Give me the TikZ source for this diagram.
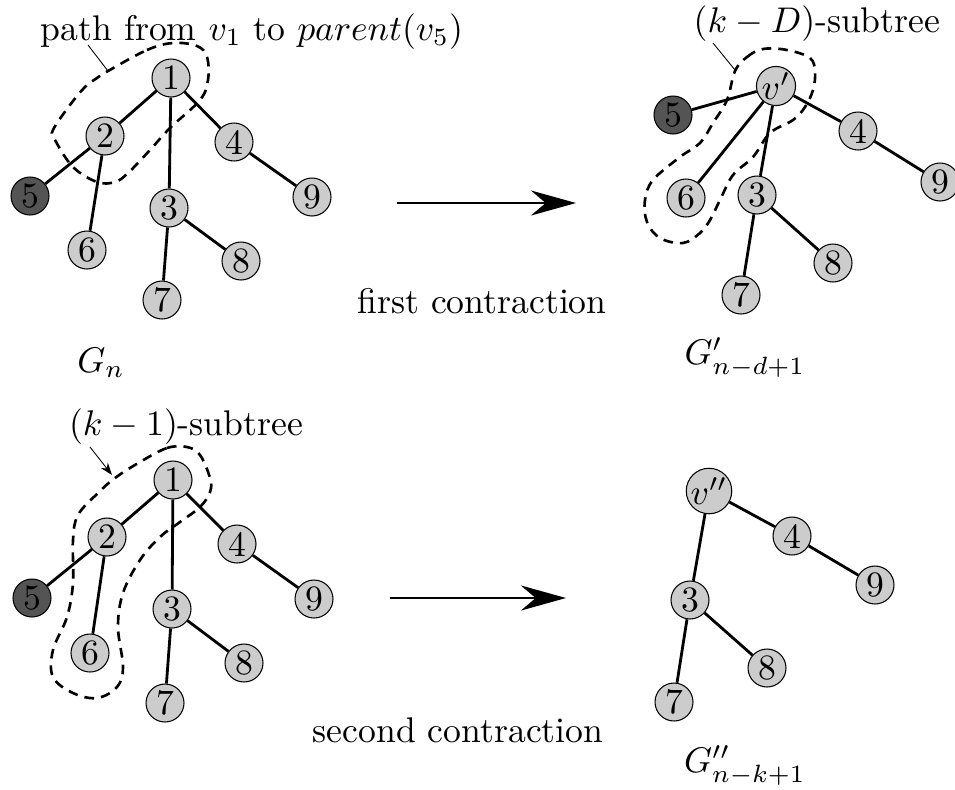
\documentclass[tikz,border=0pt]{standalone}
\usetikzlibrary{arrows.meta}
% every label is set at 10pt and enlarged as a whole
\newcommand{\bigtxt}[1]{\scalebox{2.03}{#1}}
\begin{document}
\begin{tikzpicture}[x=0.02cm,y=-0.02cm,
  vtx/.style={circle,draw=black,line width=0.6pt,fill=black!20,minimum size=0.76cm,inner sep=0pt},
  dark/.style={vtx,fill=black!67},
  edge/.style={line width=1.6pt},
  region/.style={line width=1.5pt,dash pattern=on 5.5pt off 4pt},
  pointer/.style={line width=0.5pt},
  lbl/.style={inner sep=0pt,anchor=base},
  bigarrow/.style={line width=1.6pt,-{Stealth[length=0.9cm,width=0.5cm]}}
]
\useasboundingbox (0,0) rectangle (955,789);

% ---------- original tree G_n ----------
\node[vtx]  (a1) at (171,78)  {\bigtxt{1}};
\node[vtx]  (a2) at (105,136) {\bigtxt{2}};
\node[vtx]  (a4) at (234,142) {\bigtxt{4}};
\node[dark] (a5) at (30,196)  {\bigtxt{5}};
\node[vtx]  (a9) at (312,197) {\bigtxt{9}};
\node[vtx]  (a3) at (169,208) {\bigtxt{3}};
\node[vtx]  (a6) at (87,250)  {\bigtxt{6}};
\node[vtx]  (a8) at (241,261) {\bigtxt{8}};
\node[vtx]  (a7) at (162,300) {\bigtxt{7}};
\foreach \u/\v in {a1/a2,a1/a3,a1/a4,a2/a5,a2/a6,a3/a7,a3/a8,a4/a9}
  \draw[edge] (\u) -- (\v);
\draw[region] plot[smooth cycle,tension=0.6] coordinates {
  (108,71) (147,50) (173,43) (197,46) (207,57) (208,80) (200,100)
  (170,128) (150,150) (128,173) (115,182) (97,182) (73,167) (55,140)
  (53,130) (70,105) (85,87) (97,78)};
\node[lbl] (pathlbl) at (252,40) {\bigtxt{path from $v_1$ to $parent(v_5)$}};
\coordinate (p1s) at (88,45);
\coordinate (p1e) at (108,71);
\draw[pointer] (p1s) -- (p1e);
\node[lbl] (gn) at (101,372) {\bigtxt{$G_n$}};

% ---------- first contraction ----------
\coordinate (f1s) at (397,203);
\coordinate (f1e) at (576,203);
\draw[bigarrow] (f1s) -- (f1e);
\node[lbl] (firstlbl) at (482,313) {\bigtxt{first contraction}};

% ---------- tree G'_{n-d+1} ----------
\node[vtx]  (b1) at (776,86)  {\bigtxt{$v'$}};
\node[dark] (b5) at (673,115) {\bigtxt{5}};
\node[vtx]  (b4) at (858,131) {\bigtxt{4}};
\node[vtx]  (b9) at (940,182) {\bigtxt{9}};
\node[vtx]  (b6) at (686,198) {\bigtxt{6}};
\node[vtx]  (b3) at (757,195) {\bigtxt{3}};
\node[vtx]  (b8) at (833,263) {\bigtxt{8}};
\node[vtx]  (b7) at (741,295) {\bigtxt{7}};
\foreach \u/\v in {b1/b5,b1/b6,b1/b3,b1/b4,b4/b9,b3/b7,b3/b8}
  \draw[edge] (\u) -- (\v);
\draw[region] plot[smooth cycle,tension=0.6] coordinates {
  (735,71) (747,57) (763,49) (787,50) (810,58) (815,72) (813,90)
  (805,107) (793,120) (770,133) (753,157) (733,175) (720,200)
  (710,220) (700,233) (683,243) (660,238) (647,222) (645,200)
  (653,180) (680,157) (700,143) (713,123) (727,100)};
\node[lbl] (kdlbl) at (817,32) {\bigtxt{$(k-D)$-subtree}};
\coordinate (p2s) at (713,43);
\coordinate (p2e) at (735,70);
\draw[pointer] (p2s) -- (p2e);
\node[lbl] (gp) at (745,364) {\bigtxt{$G'_{n-d+1}$}};

% ---------- tree G_n again, with the (k-1)-subtree ----------
\node[vtx]  (c1) at (173,480) {\bigtxt{1}};
\node[vtx]  (c2) at (107,537) {\bigtxt{2}};
\node[vtx]  (c4) at (237,544) {\bigtxt{4}};
\node[dark] (c5) at (32,598)  {\bigtxt{5}};
\node[vtx]  (c9) at (314,599) {\bigtxt{9}};
\node[vtx]  (c3) at (172,609) {\bigtxt{3}};
\node[vtx]  (c6) at (90,653)  {\bigtxt{6}};
\node[vtx]  (c8) at (244,663) {\bigtxt{8}};
\node[vtx]  (c7) at (165,703) {\bigtxt{7}};
\foreach \u/\v in {c1/c2,c1/c3,c1/c4,c2/c5,c2/c6,c3/c7,c3/c8,c4/c9}
  \draw[edge] (\u) -- (\v);
\draw[region] plot[smooth cycle,tension=0.6] coordinates {
  (140,462) (167,448) (187,447) (200,455) (210,478) (210,492)
  (200,507) (180,522) (160,537) (140,560) (123,593) (118,627)
  (123,667) (117,687) (97,698) (73,693) (53,677) (53,650) (67,617)
  (73,583) (73,540) (78,515) (98,493) (115,478)};
\node[lbl] (k1lbl) at (186,435) {\bigtxt{$(k-1)$-subtree}};
\coordinate (p3s) at (90,447);
\coordinate (p3e) at (112,475);
\draw[pointer,-{Stealth[length=7pt,width=5pt]}] (p3s) -- (p3e);

% ---------- second contraction ----------
\coordinate (s1s) at (390,598);
\coordinate (s1e) at (566,598);
\draw[bigarrow] (s1s) -- (s1e);
\node[lbl] (secondlbl) at (458,742) {\bigtxt{second contraction}};

% ---------- tree G''_{n-k+1} ----------
\node[vtx] (d1) at (709,491) {\bigtxt{$v''$}};
\node[vtx] (d4) at (792,536) {\bigtxt{4}};
\node[vtx] (d9) at (875,585) {\bigtxt{9}};
\node[vtx] (d3) at (690,600) {\bigtxt{3}};
\node[vtx] (d8) at (767,668) {\bigtxt{8}};
\node[vtx] (d7) at (674,702) {\bigtxt{7}};
\foreach \u/\v in {d1/d4,d4/d9,d1/d3,d3/d7,d3/d8}
  \draw[edge] (\u) -- (\v);
\node[lbl] (gpp) at (745,772) {\bigtxt{$G''_{n-k+1}$}};
\end{tikzpicture}
\end{document}
